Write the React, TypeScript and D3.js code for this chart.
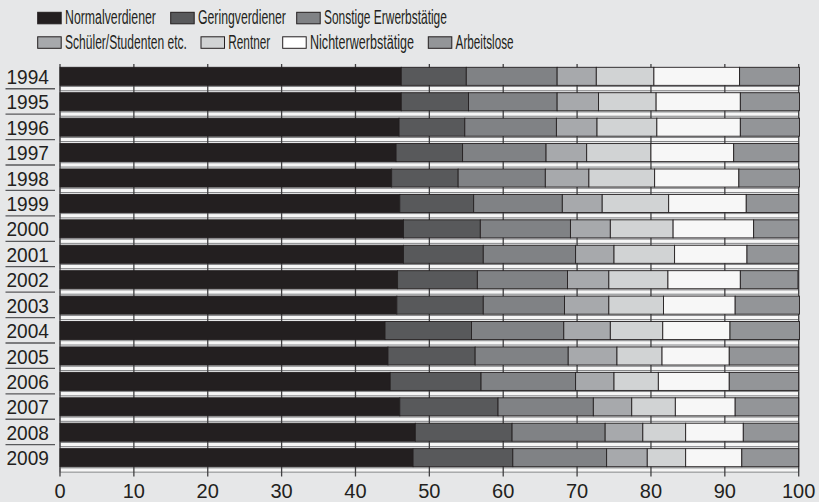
import React, { useRef, useEffect } from 'react';
import * as d3 from 'd3';

// Jahre (Zeilen) und Anteile je Gruppe in Prozent
const years = ['1994', '1995', '1996', '1997', '1998', '1999', '2000', '2001',
  '2002', '2003', '2004', '2005', '2006', '2007', '2008', '2009'];

const normalverdiener = [46.2, 46.2, 45.9, 45.5, 44.9, 46.0, 46.5, 46.5, 45.7, 45.6, 44.0, 44.4, 44.7, 46.0, 48.1, 47.8];
const geringverdiener = [8.8, 9.1, 8.9, 9.0, 9.0, 10.0, 10.4, 10.8, 10.8, 11.7, 11.7, 11.8, 12.3, 13.3, 13.1, 13.5];
const sonstigeErwerbstaetige = [12.3, 12.0, 12.4, 11.3, 11.8, 12.0, 12.2, 12.5, 12.2, 11.0, 12.5, 12.6, 12.8, 12.9, 12.6, 12.7];
const schuelerStudenten = [5.3, 5.6, 5.5, 5.5, 5.9, 5.4, 5.4, 5.2, 5.6, 6.0, 6.3, 6.6, 5.2, 5.2, 5.1, 5.5];
const rentner = [7.8, 7.8, 8.1, 8.7, 8.9, 9.0, 8.5, 8.2, 8.0, 7.4, 7.1, 6.1, 6.0, 5.9, 5.8, 5.2];
const nichterwerbstaetige = [11.6, 11.4, 11.3, 11.2, 11.4, 10.5, 10.9, 9.8, 9.8, 9.7, 9.1, 9.1, 9.6, 8.1, 7.8, 7.6];
const arbeitslose = [8.1, 8.0, 8.0, 8.8, 8.2, 7.1, 6.1, 7.0, 7.8, 8.7, 9.4, 9.4, 9.4, 8.6, 7.5, 7.7];

const xTicks = [0, 10, 20, 30, 40, 50, 60, 70, 80, 90, 100];

const seriesNames = ['Normalverdiener', 'Geringverdiener', 'Sonstige Erwerbstätige',
  'Schüler/Studenten etc.', 'Rentner', 'Nichterwerbstätige', 'Arbeitslose'];
const seriesValues = [normalverdiener, geringverdiener, sonstigeErwerbstaetige,
  schuelerStudenten, rentner, nichterwerbstaetige, arbeitslose];
const seriesColors = ['#231f20', '#58595b', '#808285', '#a7a9ac', '#d1d3d4', '#f7f7f7', '#939598'];

// Legendenlayout: zwei Zeilen, [x der Farbfläche, Textbreite]
const legendRows = [
  [[37.7, 91], [170.7, 88], [296.7, 123]],
  [[37.7, 122], [201, 42], [282.7, 104], [428.3, 58]],
];

const W = 819;
const H = 502;
const FONT = '"Liberation Sans", Arial, sans-serif';
const INK = '#231f20';

// schmale Schrift nachbilden: Text horizontal auf Zielbreite stauchen
const condensedText = (parent, tx, ty, str, width, anchor = 'start', size = 20) => {
  const g = parent.append('g');
  const t = g.append('text')
    .attr('font-family', FONT)
    .attr('font-size', size)
    .attr('fill', INK)
    .text(str);
  const natural = (t.node() as SVGTextElement).getComputedTextLength() || width;
  const sx = width / natural;
  const x0 = anchor === 'end' ? tx - width : tx;
  g.attr('transform', `translate(${x0},${ty}) scale(${sx},1)`);
  return g;
};

const App = () => {
  const svgRef = useRef<SVGSVGElement>(null);

  useEffect(() => {
    const svg = d3.select(svgRef.current);
    svg.selectAll('*').remove();

    svg.append('rect').attr('width', W).attr('height', H).attr('fill', '#e6e7e8');

    const x = d3.scaleLinear().domain([0, 100]).range([60, 798.7]);
    const y = d3.scaleBand<string>().domain(years).range([67.3, 466.7]).paddingInner(0.29).paddingOuter(0);
    const bh = y.bandwidth();

    // Tabelle für d3.stack
    const table = years.map((yr, i) => {
      const row: any = { year: yr };
      seriesNames.forEach((n, k) => { row[n] = seriesValues[k][i]; });
      return row;
    });
    const stacked = d3.stack().keys(seriesNames)(table);

    // helle Streifen unter den Balken
    svg.append('g').selectAll('rect')
      .data(years)
      .enter().append('rect')
      .attr('x', x(0))
      .attr('y', d => (y(d) as number) + bh + 1.2)
      .attr('width', x(100) - x(0))
      .attr('height', 4.2)
      .attr('fill', '#f6f6f6')
      .attr('stroke', '#6d6e71')
      .attr('stroke-width', 0.8);

    // vertikale Tick-Linien
    svg.append('g').selectAll('line')
      .data(xTicks)
      .enter().append('line')
      .attr('x1', d => x(d)).attr('x2', d => x(d))
      .attr('y1', 64).attr('y2', 476.5)
      .attr('stroke', '#414042')
      .attr('stroke-width', 1.3);

    // Balken
    const layers = svg.append('g').selectAll('g')
      .data(stacked)
      .enter().append('g')
      .attr('fill', (d, i) => seriesColors[i]);

    layers.selectAll('rect')
      .data(d => d)
      .enter().append('rect')
      .attr('x', d => x(d[0]))
      .attr('y', (d: any) => y(d.data.year) as number)
      .attr('width', d => x(d[1]) - x(d[0]))
      .attr('height', bh)
      .attr('stroke', INK)
      .attr('stroke-width', 0.9);

    // Jahresbeschriftung
    years.forEach(d => {
      condensedText(svg, 49, (y(d) as number) + bh / 2 + 7.6, d, 42.5, 'end', 20.5);
    });

    // Trennlinien unter den Jahreszahlen
    svg.append('g').selectAll('line')
      .data(years.slice(0, -1))
      .enter().append('line')
      .attr('x1', 5.5).attr('x2', 55)
      .attr('y1', d => (y(d) as number) + bh + 3.4)
      .attr('y2', d => (y(d) as number) + bh + 3.4)
      .attr('stroke', '#58595b')
      .attr('stroke-width', 1.3);

    // x-Achsenbeschriftung
    svg.append('g').selectAll('text')
      .data(xTicks)
      .enter().append('text')
      .attr('x', d => x(d))
      .attr('y', 498)
      .attr('text-anchor', 'middle')
      .attr('font-family', FONT)
      .attr('font-size', 20)
      .attr('fill', INK)
      .text(d => d);

    // Legende
    let k = 0;
    legendRows.forEach((row, r) => {
      const top = r === 0 ? 12.3 : 36.8;
      row.forEach(([lx, tw]) => {
        svg.append('rect')
          .attr('x', lx).attr('y', top)
          .attr('width', 23.5).attr('height', 11.5)
          .attr('fill', k === 5 ? '#ffffff' : seriesColors[k])
          .attr('stroke', INK)
          .attr('stroke-width', 1);
        condensedText(svg, lx + 27.3, top + 11.8, seriesNames[k], tw, 'start', 21);
        k++;
      });
    });
  }, []);

  return (
    <svg ref={svgRef} width={W} height={H}
      style={{ position: 'absolute', left: 0, top: 0, display: 'block' }} />
  );
};

export default App;
